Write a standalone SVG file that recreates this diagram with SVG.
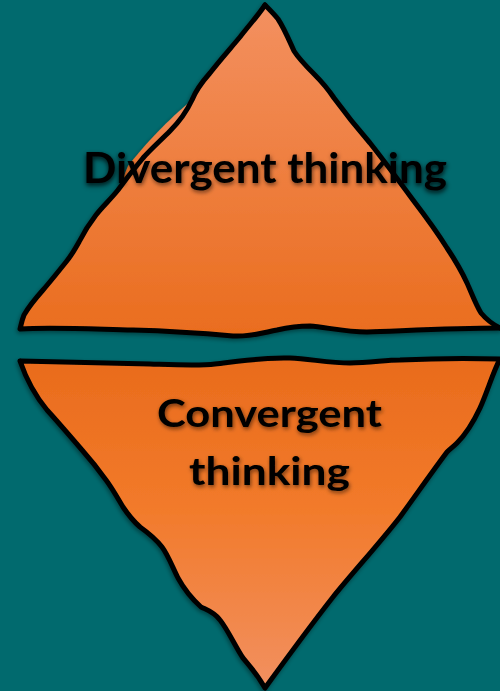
<svg xmlns="http://www.w3.org/2000/svg" width="500" height="691" viewBox="0 0 500 691">
<defs>
<linearGradient id="gUp" x1="0" y1="0" x2="0" y2="1">
<stop offset="0" stop-color="#f39060"/>
<stop offset="1" stop-color="#ea6d1e"/>
</linearGradient>
<linearGradient id="gDown" x1="0" y1="0" x2="0" y2="1">
<stop offset="0" stop-color="#e96b1c"/>
<stop offset="0.45" stop-color="#f27a2a"/>
<stop offset="1" stop-color="#f29060"/>
</linearGradient>
<filter id="sh" x="-10%" y="-10%" width="120%" height="120%">
<feDropShadow dx="-1" dy="2" stdDeviation="2" flood-color="#000" flood-opacity="0.4"/>
</filter>
<filter id="tsh" x="-10%" y="-30%" width="120%" height="160%">
<feDropShadow dx="1" dy="2" stdDeviation="2.2" flood-color="#000" flood-opacity="0.55"/>
</filter>
</defs>
<style>
.outline{fill:none;stroke:#000;stroke-width:5;stroke-linejoin:round;stroke-linecap:round}
.lbl{font-family:Lato,"Open Sans","Liberation Sans",sans-serif;font-weight:bold;fill:#000;text-anchor:middle}
</style>
<rect width="500" height="691" fill="#016a6e"/>
<g id="divergent" filter="url(#sh)">
<path fill="url(#gUp)" d="M192,100 C175,114 150,138 128,166 L118,190 L150,190 Z"/>
<path fill="url(#gUp)" d="M265,5 C257,17 250,24 240,37 C230,49 220,60 210,73 C202,82 196,90 192,100 C185,115 178,123 170,131 C160,141 150,150 143,158 C133,170 126,179 118,190 C110,200 103,206 96,215 C89,224 84,232 79,242 C74,251 71,256 66,262 C58,272 50,282 43,290 C35,299 28,308 24,315 C22,320 21,325 20,329 C50,327 90,329 133,330 C170,331 200,333 233,336 C250,337 262,333 277,330 C290,327 300,326 310,326 C325,327 345,332 367,332 C400,331 450,328 500,328 C492,324 486,319 481,313 C476,305 472,294 467,283 C462,272 455,260 447,248 C437,232 426,217 413,200 C399,181 385,162 370,143 C357,128 345,113 334,98 C328,89 322,82 314,74 C306,66 299,59 294,51 C289,40 284,28 278,19 C274,14 270,10 265,5 Z"/>
<path class="outline" d="M265,5 C257,17 250,24 240,37 C230,49 220,60 210,73 C202,82 196,90 192,100 C185,115 178,123 170,131 C160,141 150,150 143,158 C133,170 126,179 118,190 C110,200 103,206 96,215 C89,224 84,232 79,242 C74,251 71,256 66,262 C58,272 50,282 43,290 C35,299 28,308 24,315 C22,320 21,325 20,329 C50,327 90,329 133,330 C170,331 200,333 233,336 C250,337 262,333 277,330 C290,327 300,326 310,326 C325,327 345,332 367,332 C400,331 450,328 500,328"/>
<path class="outline" d="M265,5 C270,10 274,14 278,19 C284,28 289,40 294,51 C299,59 306,66 314,74 C322,82 328,89 334,98 C345,113 357,128 370,143 C385,162 399,181 413,200 C426,217 437,232 447,248 C455,260 462,272 467,283 C472,294 476,305 481,313 C486,319 492,324 500,328"/>
<text class="lbl" x="265" y="183" font-size="42" textLength="364" lengthAdjust="spacingAndGlyphs" filter="url(#tsh)">Divergent thinking</text>
</g>
<g id="convergent" filter="url(#sh)">
<path fill="url(#gDown)" d="M20,361 C60,362 100,363 150,364 C180,365 200,366 215,364 C240,361 265,357 290,358 C310,359 330,363 350,363 C370,363 385,360 400,360 C440,358 470,358 500,359 C493,372 488,390 480,408 C473,423 466,434 457,443 C453,447 450,449 447,452 C432,472 416,495 400,517 C378,545 355,570 333,597 C311,625 289,655 265,688 C258,676 250,666 243,658 C235,646 228,630 220,620 C214,612 207,610 201,607 C191,598 184,589 178,578 C172,566 168,555 162,547 C155,538 147,532 140,527 C132,520 127,513 123,507 C117,497 112,488 106,480 C98,469 90,459 82,450 C70,436 58,422 47,410 C37,398 28,384 20,361 Z"/>
<path class="outline" d="M20,361 C60,362 100,363 150,364 C180,365 200,366 215,364 C240,361 265,357 290,358 C310,359 330,363 350,363 C370,363 385,360 400,360 C440,358 470,358 500,359 C493,372 488,390 480,408 C473,423 466,434 457,443 C453,447 450,449 447,452 C432,472 416,495 400,517 C378,545 355,570 333,597 C311,625 289,655 265,688 C258,676 250,666 243,658 C235,646 228,630 220,620 C214,612 207,610 201,607 C191,598 184,589 178,578 C172,566 168,555 162,547 C155,538 147,532 140,527 C132,520 127,513 123,507 C117,497 112,488 106,480 C98,469 90,459 82,450 C70,436 58,422 47,410 C37,398 28,384 20,361"/>
<text class="lbl" font-size="39" filter="url(#tsh)"><tspan x="269.5" y="427" textLength="225" lengthAdjust="spacingAndGlyphs">Convergent</tspan><tspan x="269.5" y="485" textLength="161" lengthAdjust="spacingAndGlyphs">thinking</tspan></text>
</g>
</svg>
